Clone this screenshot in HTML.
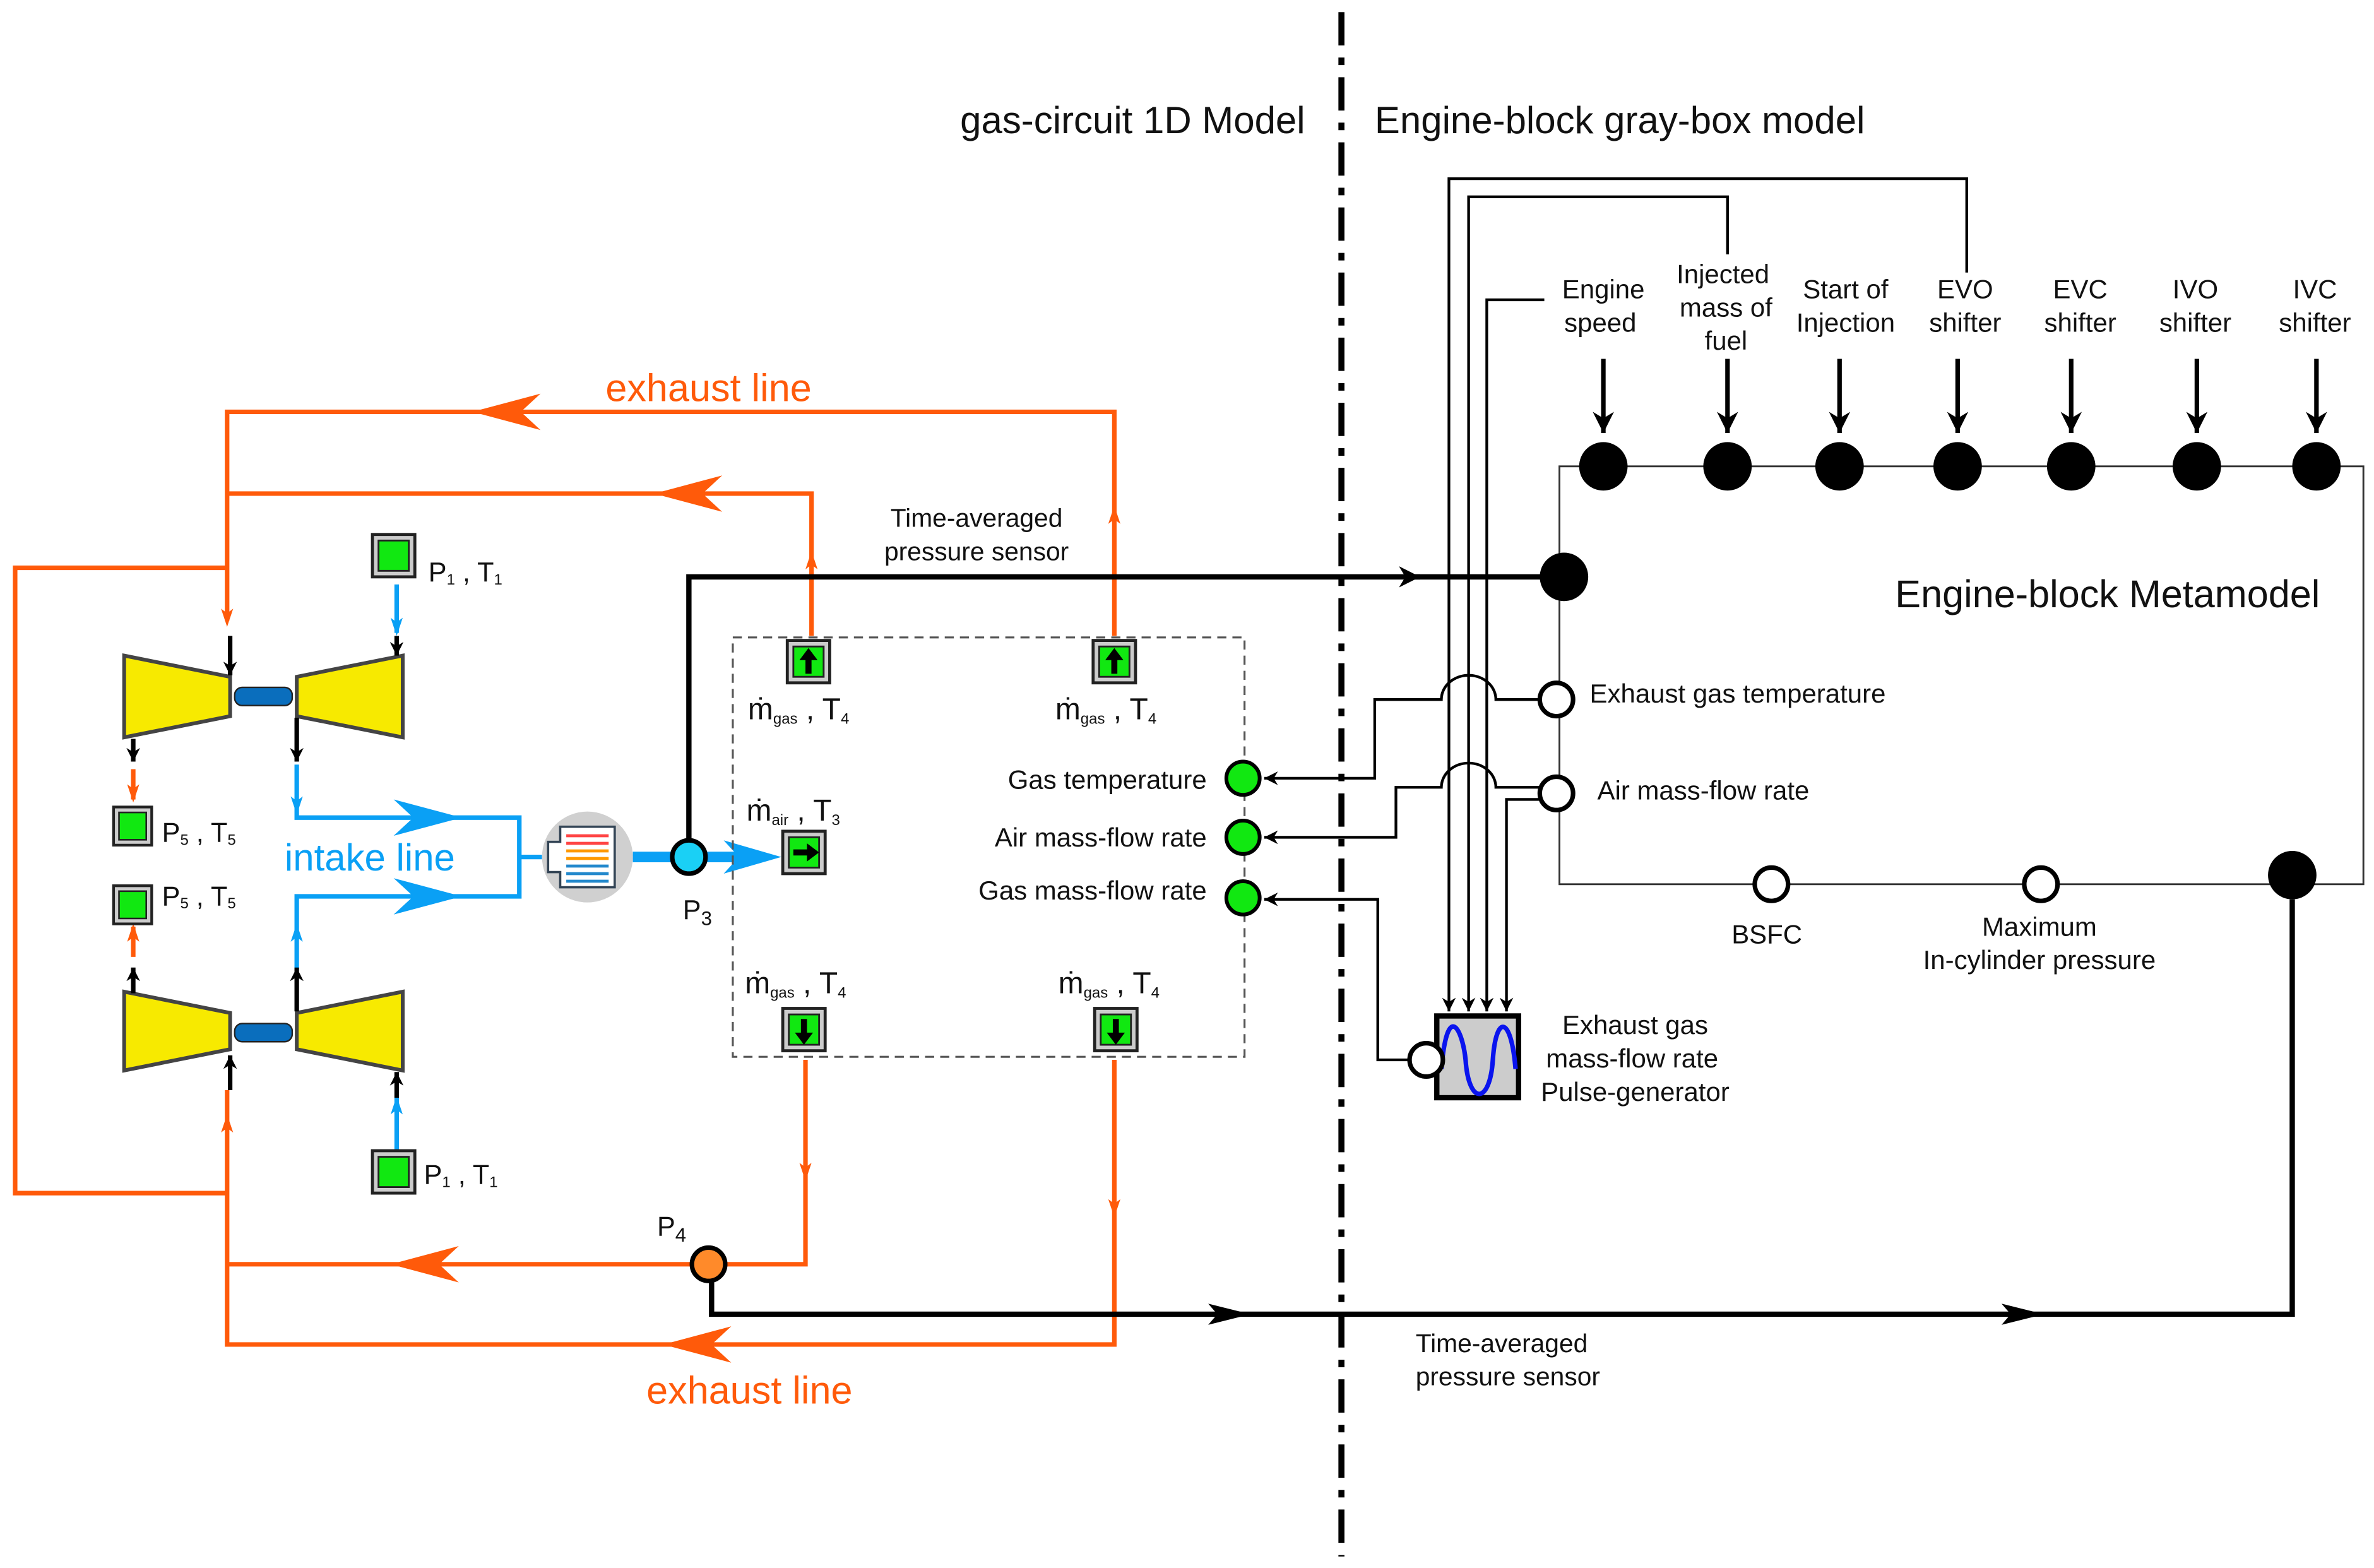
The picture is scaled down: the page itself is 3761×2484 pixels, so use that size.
<!DOCTYPE html>
<html><head><meta charset="utf-8"><style>
html,body{margin:0;padding:0;background:#fff}
svg{display:block}
text{font-family:"Liberation Sans",sans-serif;fill:#111}
</style></head><body>
<svg width="3761" height="2484" viewBox="0 0 1568 1035.6" xmlns="http://www.w3.org/2000/svg">
<defs>
<marker id="a" viewBox="0 0 10 10" refX="10" refY="5" markerWidth="9" markerHeight="9" markerUnits="userSpaceOnUse" orient="auto"><path d="M0,0 L10,5 L0,10 L3,5 z" fill="#000"/></marker>
<marker id="ab" viewBox="0 0 10 10" refX="10" refY="5" markerWidth="14" markerHeight="14" markerUnits="userSpaceOnUse" orient="auto"><path d="M0,0 L10,5 L0,10 L3,5 z" fill="#000"/></marker>
<g id="sens"><rect x="0" y="0" width="28" height="28" fill="#ccc" stroke="#222" stroke-width="2"/><path d="M4,4 H24 V24 H4 Z" fill="#11e811" stroke="#222" stroke-width="1.2"/></g>
</defs>
<rect width="1568" height="1036" fill="#fff"/>

<line x1="886" y1="8" x2="886" y2="1028" stroke="#000" stroke-width="4" stroke-dasharray="22,8,5,8"/>
<text x="862" y="88" font-size="25" text-anchor="end">gas-circuit 1D Model</text>
<text x="908" y="88" font-size="25">Engine-block gray-box model</text>

<g fill="none" stroke="#ff5a0a" stroke-width="3">
<polyline points="736,420 736,272 150,272 150,410"/>
<polyline points="536,420 536,326 150,326"/>
<polyline points="150,375 10,375 10,788 150,788"/>
<polyline points="150,720 150,888 736,888 736,700"/>
<polyline points="532,700 532,835 150,835"/>
<line x1="88" y1="508" x2="88" y2="528"/>
<line x1="88" y1="612" x2="88" y2="632"/>
</g>
<g fill="#ff5a0a">
<polygon points="312,272 357,260 344,272 357,284"/>
<polygon points="432,326 477,314 464,326 477,338"/>
<polygon points="258,835 303,823 290,835 303,847"/>
<polygon points="438,888 483,876 470,888 483,900"/>
<polygon points="536,364 532,376 536,373 540,376"/>
<polygon points="736,334 732,346 736,343 740,346"/>
<polygon points="532,780 528,768 532,771 536,768"/>
<polygon points="736,804 732,792 736,795 740,792"/>
<polygon points="150,414 146,402 150,405 154,402"/>
<polygon points="150,736 146,748 150,745 154,748"/>
<polygon points="88,530 84,518 88,521 92,518"/>
<polygon points="88,610 84,622 88,619 92,622"/>
</g>
<text x="468" y="265" font-size="25.5" style="fill:#ff5a0a" text-anchor="middle">exhaust line</text>
<text x="495" y="927" font-size="25.5" style="fill:#ff5a0a" text-anchor="middle">exhaust line</text>

<g fill="none" stroke="#0aa0f5" stroke-width="3">
<polyline points="196,505 196,540 343,540 343,592 196,592 196,640"/>
<line x1="343" y1="566" x2="358" y2="566"/>
<line x1="262" y1="386" x2="262" y2="418"/>
<line x1="262" y1="725" x2="262" y2="760"/>
</g>
<line x1="418" y1="566" x2="500" y2="566" stroke="#0aa0f5" stroke-width="7"/>
<g fill="#0aa0f5">
<polygon points="305,540 260,528 273,540 260,552"/>
<polygon points="305,592 260,580 273,592 260,604"/>
<polygon points="516,566 478,555 488,566 478,577"/>
<polygon points="262,420 258,408 262,411 266,408"/>
<polygon points="262,724 258,736 262,733 266,736"/>
<polygon points="196,538 192,526 196,529 200,526"/>
<polygon points="196,610 192,622 196,619 200,622"/>
</g>
<text x="188" y="575" font-size="25" style="fill:#0aa0f5">intake line</text>

<g stroke="#444" stroke-width="2.5" fill="#f7ea00">
<polygon points="82,433 152,447 152,473 82,487"/>
<polygon points="196,447 266,433 266,487 196,473"/>
<polygon points="82,655 152,669 152,693 82,707"/>
<polygon points="196,669 266,655 266,707 196,693"/>
</g>
<rect x="155" y="454" width="38" height="12" rx="5" fill="#0a6ebd" stroke="#222" stroke-width="1"/>
<rect x="155" y="676" width="38" height="12" rx="5" fill="#0a6ebd" stroke="#222" stroke-width="1"/>
<g stroke="#000" stroke-width="3" fill="none">
<line x1="152" y1="420" x2="152" y2="446" marker-end="url(#a)"/>
<line x1="262" y1="420" x2="262" y2="433" marker-end="url(#a)"/>
<line x1="88" y1="488" x2="88" y2="503" marker-end="url(#a)"/>
<line x1="196" y1="474" x2="196" y2="503" marker-end="url(#a)"/>
<line x1="88" y1="656" x2="88" y2="639" marker-end="url(#a)"/>
<line x1="196" y1="668" x2="196" y2="639" marker-end="url(#a)"/>
<line x1="152" y1="720" x2="152" y2="697" marker-end="url(#a)"/>
<line x1="262" y1="725" x2="262" y2="708" marker-end="url(#a)"/>
</g>
<use href="#sens" x="246" y="353"/>
<use href="#sens" x="246" y="760"/>
<use href="#sens" x="75" y="533" transform="translate(75,533) scale(0.9) translate(-75,-533)"/>
<use href="#sens" x="75" y="585" transform="translate(75,585) scale(0.9) translate(-75,-585)"/>
<g font-size="18">
<text x="283" y="384">P<tspan font-size="10" dy="2">1</tspan><tspan dy="-2"> , T</tspan><tspan font-size="10" dy="2">1</tspan></text>
<text x="280" y="782">P<tspan font-size="10" dy="2">1</tspan><tspan dy="-2"> , T</tspan><tspan font-size="10" dy="2">1</tspan></text>
<text x="107" y="556">P<tspan font-size="10" dy="2">5</tspan><tspan dy="-2"> , T</tspan><tspan font-size="10" dy="2">5</tspan></text>
<text x="107" y="598">P<tspan font-size="10" dy="2">5</tspan><tspan dy="-2"> , T</tspan><tspan font-size="10" dy="2">5</tspan></text>
</g>

<circle cx="388" cy="566" r="30" fill="#d0d0d0"/>
<path d="M370,546 H406 V586 H370 V576 H362 V556 H370 Z" fill="#fff" stroke="#345" stroke-width="1.5"/>
<g stroke-width="2"><line x1="374" y1="552" x2="402" y2="552" stroke="#f44"/><line x1="374" y1="557" x2="402" y2="557" stroke="#f44"/><line x1="374" y1="562" x2="402" y2="562" stroke="#f90"/><line x1="374" y1="567" x2="402" y2="567" stroke="#f90"/><line x1="374" y1="572" x2="402" y2="572" stroke="#28c"/><line x1="374" y1="577" x2="402" y2="577" stroke="#28c"/><line x1="374" y1="582" x2="402" y2="582" stroke="#28c"/></g>

<polyline points="455,555 455,381 938,381" fill="none" stroke="#000" stroke-width="3.5" marker-end="url(#ab)"/>
<line x1="930" y1="381" x2="1020" y2="381" stroke="#000" stroke-width="3.5"/>
<circle cx="455" cy="566" r="11" fill="#1ad0f5" stroke="#000" stroke-width="3"/>
<text x="451" y="607" font-size="18">P<tspan font-size="13" dy="4">3</tspan></text>
<text x="645" y="348" font-size="17" text-anchor="middle">Time-averaged</text>
<text x="645" y="370" font-size="17" text-anchor="middle">pressure sensor</text>

<rect x="484" y="421" width="338" height="277" fill="none" stroke="#555" stroke-width="1.3" stroke-dasharray="6,4"/>
<use href="#sens" x="520" y="423"/>
<use href="#sens" x="722" y="423"/>
<use href="#sens" x="517" y="549"/>
<use href="#sens" x="517" y="666"/>
<use href="#sens" x="723" y="666"/>
<g fill="#000">
<path d="M534,428 l-6,8 h4 v9 h4 v-9 h4 z"/>
<path d="M736,428 l-6,8 h4 v9 h4 v-9 h4 z"/>
<path d="M541,563 l-8,-6 v4 h-9 v4 h9 v4 z"/>
<path d="M531,690 l-6,-8 h4 v-9 h4 v9 h4 z"/>
<path d="M737,690 l-6,-8 h4 v-9 h4 v9 h4 z"/>
</g>
<g font-size="20">
<text x="494" y="475">ṁ<tspan font-size="10" dy="3">gas</tspan><tspan dy="-3">  , T</tspan><tspan font-size="10" dy="3">4</tspan></text>
<text x="697" y="475">ṁ<tspan font-size="10" dy="3">gas</tspan><tspan dy="-3">  , T</tspan><tspan font-size="10" dy="3">4</tspan></text>
<text x="493" y="542">ṁ<tspan font-size="10" dy="3">air</tspan><tspan dy="-3">  , T</tspan><tspan font-size="10" dy="3">3</tspan></text>
<text x="492" y="656">ṁ<tspan font-size="10" dy="3">gas</tspan><tspan dy="-3">  , T</tspan><tspan font-size="10" dy="3">4</tspan></text>
<text x="699" y="656">ṁ<tspan font-size="10" dy="3">gas</tspan><tspan dy="-3">  , T</tspan><tspan font-size="10" dy="3">4</tspan></text>
</g>
<g font-size="17.5" text-anchor="end">
<text x="797" y="521">Gas temperature</text>
<text x="797" y="559">Air mass-flow rate</text>
<text x="797" y="594">Gas mass-flow rate</text>
</g>
<g fill="#11e811" stroke="#000" stroke-width="2.5">
<circle cx="821" cy="514" r="11"/><circle cx="821" cy="553" r="11"/><circle cx="821" cy="593" r="11"/>
</g>

<polyline points="470,846 470,868 1514,868 1514,594" fill="none" stroke="#000" stroke-width="3.5"/>
<g fill="#000">
<polygon points="826,868 798,861 804,868 798,875"/>
<polygon points="1350,868 1322,861 1328,868 1322,875"/>
</g>
<circle cx="468" cy="835" r="11" fill="#ff8a2a" stroke="#000" stroke-width="3"/>
<text x="434" y="816" font-size="18">P<tspan font-size="13" dy="4">4</tspan></text>
<text x="935" y="893" font-size="17">Time-averaged</text>
<text x="935" y="915" font-size="17">pressure sensor</text>

<rect x="1030" y="308" width="531" height="276" fill="none" stroke="#333" stroke-width="1.2"/>
<text x="1392" y="401" font-size="25.5" text-anchor="middle">Engine-block Metamodel</text>
<g fill="#000">
<circle cx="1059" cy="308" r="16"/><circle cx="1141" cy="308" r="16"/><circle cx="1215" cy="308" r="16"/><circle cx="1293" cy="308" r="16"/><circle cx="1368" cy="308" r="16"/><circle cx="1451" cy="308" r="16"/><circle cx="1530" cy="308" r="16"/>
<circle cx="1033" cy="381" r="16"/><circle cx="1514" cy="578" r="16"/>
</g>
<g stroke="#000" stroke-width="3">
<line x1="1059" y1="237" x2="1059" y2="286" marker-end="url(#ab)"/>
<line x1="1141" y1="237" x2="1141" y2="286" marker-end="url(#ab)"/>
<line x1="1215" y1="237" x2="1215" y2="286" marker-end="url(#ab)"/>
<line x1="1293" y1="237" x2="1293" y2="286" marker-end="url(#ab)"/>
<line x1="1368" y1="237" x2="1368" y2="286" marker-end="url(#ab)"/>
<line x1="1451" y1="237" x2="1451" y2="286" marker-end="url(#ab)"/>
<line x1="1530" y1="237" x2="1530" y2="286" marker-end="url(#ab)"/>
</g>
<g font-size="17.5" text-anchor="middle">
<text x="1059" y="197">Engine</text><text x="1057" y="219">speed</text>
<text x="1138" y="187">Injected</text><text x="1140" y="209">mass of</text><text x="1140" y="231">fuel</text>
<text x="1219" y="197">Start of</text><text x="1219" y="219">Injection</text>
<text x="1298" y="197">EVO</text><text x="1298" y="219">shifter</text>
<text x="1374" y="197">EVC</text><text x="1374" y="219">shifter</text>
<text x="1450" y="197">IVO</text><text x="1450" y="219">shifter</text>
<text x="1529" y="197">IVC</text><text x="1529" y="219">shifter</text>
</g>
<g fill="#fff" stroke="#000" stroke-width="3">
<circle cx="1028" cy="462" r="11"/><circle cx="1028" cy="524" r="11"/>
<circle cx="1170" cy="584" r="11"/><circle cx="1348" cy="584" r="11"/>
</g>
<g font-size="17.5">
<text x="1050" y="464">Exhaust gas temperature</text>
<text x="1055" y="528">Air mass-flow rate</text>
<text x="1167" y="623" text-anchor="middle">BSFC</text>
<text x="1347" y="618" text-anchor="middle">Maximum</text>
<text x="1347" y="640" text-anchor="middle">In-cylinder pressure</text>
</g>

<g fill="none" stroke="#000" stroke-width="1.8">
<polyline points="1299,180 1299,118 957,118 957,668" marker-end="url(#a)"/>
<polyline points="1141,168 1141,130 970,130 970,668" marker-end="url(#a)"/>
<polyline points="1020,198 982,198 982,668" marker-end="url(#a)"/>
<polyline points="1017,528 995,528 995,668" marker-end="url(#a)"/>
<path d="M1017,462 H988 A18,16 0 0 0 952,462 H908 V514 H835" marker-end="url(#a)"/>
<path d="M1017,520 H988 A18,16 0 0 0 952,520 H922 V553 H835" marker-end="url(#a)"/>
<polyline points="931,700 910,700 910,594 835,594" marker-end="url(#a)"/>
</g>
<rect x="949" y="671" width="54" height="54" fill="#ccc" stroke="#000" stroke-width="3.5"/>
<path d="M952,706 C956,660 966,680 968,700 C970,730 984,730 986,700 C988,670 998,670 1001,706" fill="none" stroke="#0a14ee" stroke-width="3"/>
<circle cx="942" cy="700" r="11" fill="#fff" stroke="#000" stroke-width="3"/>
<g font-size="17.5" text-anchor="middle">
<text x="1080" y="683">Exhaust gas</text>
<text x="1078" y="705">mass-flow rate</text>
<text x="1080" y="727">Pulse-generator</text>
</g>
</svg>
</body></html>
